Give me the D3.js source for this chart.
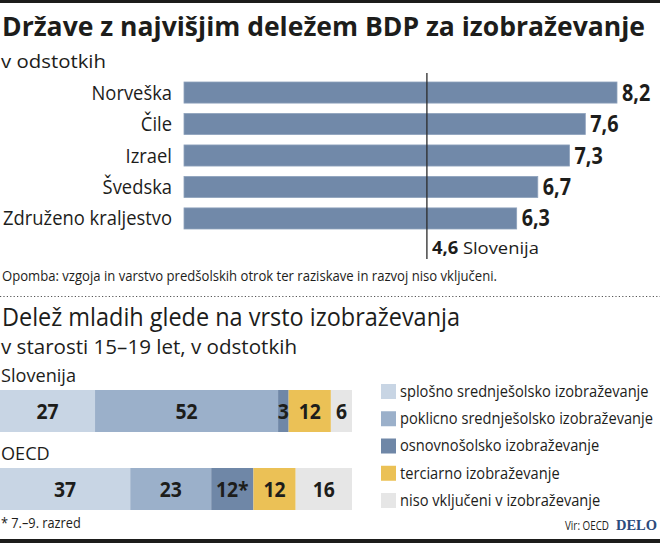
<!DOCTYPE html>
<html><head><meta charset="utf-8">
<script src="https://cdn.jsdelivr.net/npm/d3@7"></script>
<style>
html,body{margin:0;padding:0;background:#fff;}
svg{display:block;}
text{font-family:"Open Sans","Noto Sans",sans-serif;fill:#1d1d1b;}
</style></head>
<body>
<script>
// ---- data ----
const countries = ["Norveška", "Čile", "Izrael", "Švedska", "Združeno kraljestvo"];
const gdpShare = [8.2, 7.6, 7.3, 6.7, 6.3];
const sloveniaShare = 4.6;
const groups = ["Slovenija", "OECD"];
const eduTypes = ["splošno srednješolsko izobraževanje", "poklicno srednješolsko izobraževanje",
  "osnovnošolsko izobraževanje", "terciarno izobraževanje", "niso vključeni v izobraževanje"];
const sloValues = [27, 52, 3, 12, 6];
const oecdValues = [37, 23, 12, 12, 16];
const sloLabels = ["27", "52", "3", "12", "6"];
const oecdLabels = ["37", "23", "12*", "12", "16"];
const eduColors = ["#c8d5e4", "#9bb0ca", "#6f87a7", "#ebc156", "#e6e6e6"];

const W = 660, H = 543;
const svg = d3.select("body").append("svg").attr("width", W).attr("height", H);

function fit(sel, w) {
  sel.each(function () {
    const n = this.getComputedTextLength();
    if (n > 0) d3.select(this).attr("textLength", w).attr("lengthAdjust", "spacingAndGlyphs");
  });
  return sel;
}
function condense(sel, r) {
  sel.each(function () {
    const n = this.getComputedTextLength();
    if (n > 0) d3.select(this).attr("textLength", n * r).attr("lengthAdjust", "spacingAndGlyphs");
  });
  return sel;
}
function ratioFor(sel, w) {
  const n = sel.node().getComputedTextLength();
  return n > 0 ? w / n : 1;
}

// frame lines
svg.append("rect").attr("x", 0).attr("y", 0).attr("width", W).attr("height", 3).attr("fill", "#1d1d1b");
svg.append("rect").attr("x", 0).attr("y", 539).attr("width", W).attr("height", 4).attr("fill", "#1d1d1b");

// titles
fit(svg.append("text").attr("x", 2).attr("y", 36).attr("font-size", 27).attr("font-weight", 700)
  .text("Države z najvišjim deležem BDP za izobraževanje"), 643);
fit(svg.append("text").attr("x", 1).attr("y", 68).attr("font-size", 19)
  .text("v odstotkih"), 105);

// ---- chart 1 ----
const x1 = d3.scaleLinear().domain([0, 8.2]).range([184, 617]);
const y1 = d3.scaleBand().domain(countries).range([82, 229]).paddingInner(0.33).paddingOuter(0);
const rows = countries.map((c, i) => ({ c, v: gdpShare[i] }));

svg.append("g").selectAll("rect").data(rows).join("rect")
  .attr("x", x1(0)).attr("y", d => y1(d.c))
  .attr("width", d => x1(d.v) - x1(0)).attr("height", y1.bandwidth())
  .attr("fill", "#7189a9").attr("stroke", "#8ea2bc").attr("stroke-width", 0.8);

const catLabels = svg.append("g").selectAll("text").data(rows).join("text")
  .attr("x", 172).attr("y", d => y1(d.c) + y1.bandwidth() / 2 + 7)
  .attr("text-anchor", "end").attr("font-size", 20).text(d => d.c);
const catRatio = ratioFor(catLabels.filter(d => d.c === "Združeno kraljestvo"), 169);
condense(catLabels, catRatio);

const valLabels = svg.append("g").selectAll("text").data(rows).join("text")
  .attr("x", d => x1(d.v) + 5).attr("y", d => y1(d.c) + y1.bandwidth() / 2 + 8)
  .attr("font-size", 23).attr("font-weight", 700).text(d => d3.format(".1f")(d.v).replace(".", ","));
condense(valLabels, 0.86);

svg.append("line").attr("x1", x1(sloveniaShare)).attr("x2", x1(sloveniaShare))
  .attr("y1", 73).attr("y2", 259).attr("stroke", "#2b2b2b").attr("stroke-width", 1.3);
const sl = svg.append("text").attr("x", x1(sloveniaShare) + 5).attr("y", 254).attr("font-size", 17);
sl.append("tspan").attr("font-weight", 700).text(String(sloveniaShare).replace(".", ","));
sl.append("tspan").text(" Slovenija");
fit(sl, 107);

fit(svg.append("text").attr("x", 2).attr("y", 281).attr("font-size", 15)
  .text("Opomba: vzgoja in varstvo predšolskih otrok ter raziskave in razvoj niso vključeni."), 495);

svg.append("line").attr("x1", 0).attr("x2", W).attr("y1", 296.5).attr("y2", 296.5)
  .attr("stroke", "#555").attr("stroke-width", 1.2).attr("stroke-dasharray", "1.2,2.2");

// ---- chart 2 ----
fit(svg.append("text").attr("x", 2).attr("y", 326).attr("font-size", 25)
  .text("Delež mladih glede na vrsto izobraževanja"), 458);
fit(svg.append("text").attr("x", 1).attr("y", 354).attr("font-size", 20)
  .text("v starosti 15–19 let, v odstotkih"), 296);

const x2 = d3.scaleLinear().domain([0, 100]).range([0, 352]);
const y2 = d3.scaleBand().domain(groups).range([390, 510]).paddingInner(0.4615).paddingOuter(0);

const stackRows = [
  { g: "Slovenija", vals: sloValues, labels: sloLabels },
  { g: "OECD", vals: oecdValues, labels: oecdLabels }
];
const groupLabels = svg.append("g").selectAll("text").data(groups).join("text")
  .attr("x", 1).attr("y", d => y2(d) - 8).attr("font-size", 19).text(d => d);
condense(groupLabels, ratioFor(groupLabels.filter(d => d === "Slovenija"), 75));

stackRows.forEach(r => {
  let acc = 0;
  const segs = r.vals.map((v, i) => { const s = { x0: acc, x1: acc + v, i, label: r.labels[i] }; acc += v; return s; });
  const g = svg.append("g");
  g.selectAll("rect").data(segs).join("rect")
    .attr("x", d => x2(d.x0)).attr("y", y2(r.g))
    .attr("width", d => x2(d.x1) - x2(d.x0)).attr("height", y2.bandwidth())
    .attr("fill", d => eduColors[d.i]);
  const t = g.selectAll("text").data(segs).join("text")
    .attr("x", d => (x2(d.x0) + x2(d.x1)) / 2).attr("y", y2(r.g) + y2.bandwidth() / 2 + 8)
    .attr("text-anchor", "middle").attr("font-size", 22).attr("font-weight", 700).text(d => d.label);
  condense(t, 0.88);
});

condense(svg.append("text").attr("x", 1).attr("y", 528).attr("font-size", 15).text("* 7.–9. razred"), 0.85);

// legend
const yL = d3.scaleBand().domain(eduTypes).range([384, 508]).paddingInner(0.45).paddingOuter(0);
const lg = svg.append("g");
lg.selectAll("rect").data(eduTypes).join("rect")
  .attr("x", 381).attr("y", d => yL(d)).attr("width", 15).attr("height", 15)
  .attr("fill", (d, i) => eduColors[i]);
const ltG = lg.append("g");
const lt = ltG.selectAll("text").data(eduTypes).join("text")
  .attr("x", 0).attr("y", d => yL(d) + 13).attr("font-size", 17).text(d => d);
const lr = ratioFor(lt.filter(d => d === eduTypes[1]), 253);
ltG.attr("transform", `translate(400,0) scale(${lr},1)`);

fit(svg.append("text").attr("x", 565).attr("y", 530).attr("font-size", 12).text("Vir: OECD"), 44);
fit(svg.append("text").attr("x", 616).attr("y", 530)
  .style("font-family", "'Liberation Serif','DejaVu Serif',serif").attr("font-weight", 700)
  .attr("font-size", 15).style("fill", "#2c4b7c").text("DELO"), 41);
</script>
</body></html>
